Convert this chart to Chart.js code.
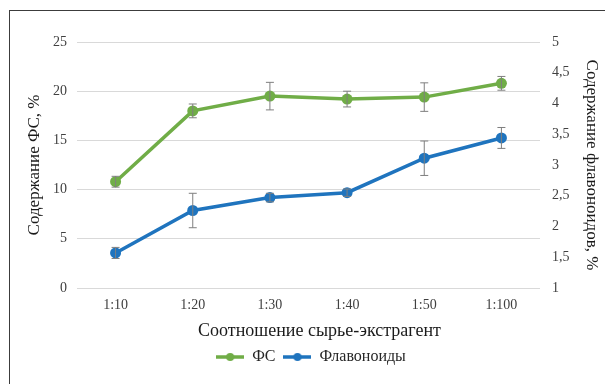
<!DOCTYPE html>
<html><head><meta charset="utf-8">
<script src="https://cdn.jsdelivr.net/npm/chart.js@4/dist/chart.umd.min.js"></script>
<style>
html,body{margin:0;padding:0;background:#fff;overflow:hidden;}
#wrap{position:absolute;left:0;top:0;width:605px;height:384px;}
#frame{position:absolute;left:9px;top:10px;width:700px;height:500px;border:1.5px solid #3c3c3c;box-sizing:border-box;}
</style></head>
<body>
<div id="frame"></div>
<div id="wrap"><canvas id="c" width="605" height="384"></canvas></div>
<script>
const categories = ['1:10','1:20','1:30','1:40','1:50','1:100'];
const fsValues = [10.8, 18.0, 19.5, 19.2, 19.4, 20.8];
const fsErrors = [0.55, 0.7, 1.4, 0.8, 1.45, 0.7];
const flavValues = [1.57, 2.26, 2.47, 2.55, 3.11, 3.44];
const flavErrors = [0.09, 0.28, 0.07, 0.06, 0.28, 0.17];
const leftTicks = [0, 5, 10, 15, 20, 25];
const rightTicks = [1, 1.5, 2, 2.5, 3, 3.5, 4, 4.5, 5];
const xTitle = 'Соотношение сырье-экстрагент';

const GREEN = '#70AD47', BLUE = '#1F74BE';
const FONT = "'Liberation Serif', 'Times New Roman', serif";

function legendIcon(color){
  const c = document.createElement('canvas');
  c.width = 28; c.height = 12;
  const g = c.getContext('2d');
  g.strokeStyle = color; g.lineWidth = 3.5;
  g.beginPath(); g.moveTo(0,6); g.lineTo(28,6); g.stroke();
  g.fillStyle = color; g.beginPath(); g.arc(14,6,4,0,Math.PI*2); g.fill();
  return c;
}

const errorBars = {
  id:'errorBars',
  afterDatasetsDraw(chart){
    const ctx = chart.ctx;
    ctx.save();
    ctx.strokeStyle = '#7f7f7f'; ctx.lineWidth = 1;
    chart.data.datasets.forEach((ds, i) => {
      const meta = chart.getDatasetMeta(i);
      const ys = chart.scales[ds.yAxisID];
      ds.data.forEach((v, j) => {
        const e = ds.errors[j];
        const x = meta.data[j].x;
        const y1 = ys.getPixelForValue(v + e), y2 = ys.getPixelForValue(v - e);
        ctx.beginPath();
        ctx.moveTo(x, y1); ctx.lineTo(x, y2);
        ctx.moveTo(x-4, y1); ctx.lineTo(x+4, y1);
        ctx.moveTo(x-4, y2); ctx.lineTo(x+4, y2);
        ctx.stroke();
      });
    });
    ctx.restore();
  }
};

const xTitlePlugin = {
  id:'xTitle',
  afterDraw(chart){
    const ctx = chart.ctx, a = chart.chartArea;
    ctx.save();
    ctx.font = "18px " + FONT;
    ctx.fillStyle = '#1a1a1a';
    ctx.textAlign = 'center'; ctx.textBaseline = 'middle';
    ctx.fillText(xTitle, (a.left + a.right)/2 + 11, a.bottom + 43);
    ctx.restore();
  }
};

new Chart(document.getElementById('c'), {
  type:'line',
  data:{
    labels: categories,
    datasets:[
      {label:'ФС', data: fsValues, errors: fsErrors, yAxisID:'y', borderColor:GREEN, backgroundColor:GREEN,
       borderWidth:3.5, pointRadius:5.5, pointBackgroundColor:GREEN, pointBorderWidth:0, tension:0, pointStyle:'circle'},
      {label:'Флавоноиды', data: flavValues, errors: flavErrors, yAxisID:'y1', borderColor:BLUE, backgroundColor:BLUE,
       borderWidth:3.5, pointRadius:5.5, pointBackgroundColor:BLUE, pointBorderWidth:0, tension:0, pointStyle:'circle'}
    ]
  },
  options:{
    responsive:false, animation:false,
    layout:{padding:{left:20, right:3, top:42, bottom:9}},
    plugins:{
      tooltip:{enabled:false},
      legend:{position:'bottom', labels:{usePointStyle:true, pointStyleWidth:28, font:{family:FONT, size:16}, color:'#262626', padding:8,
        generateLabels(chart){
          return chart.data.datasets.map((ds,i)=>({text:ds.label, pointStyle:legendIcon(ds.borderColor), fillStyle:ds.borderColor,
            strokeStyle:ds.borderColor, lineWidth:0, hidden:false, datasetIndex:i, fontColor:'#262626'}));
        }}},
    },
    scales:{
      x:{
        offset:true,
        afterFit(s){ s.height = 53; },
        grid:{display:false, drawTicks:false},
        border:{display:false},
        ticks:{font:{family:FONT, size:14}, color:'#404040', padding:9},
        title:{display:false}
      },
      y:{
        position:'left', min:0, max:25,
        afterBuildTicks(s){ s.ticks = leftTicks.map(v=>({value:v})); },
        afterFit(s){ s.width = 57; },
        grid:{color:'#d9d9d9', lineWidth:1, drawTicks:false},
        border:{display:false},
        ticks:{font:{family:FONT, size:14}, color:'#404040', padding:10},
        title:{display:true, text:'Содержание ФС, %', font:{family:FONT, size:17}, color:'#1a1a1a', padding:{bottom:2}}
      },
      y1:{
        position:'right', min:1, max:5,
        afterBuildTicks(s){ s.ticks = rightTicks.map(v=>({value:v})); },
        afterFit(s){ s.width = 62; },
        grid:{display:false, drawTicks:false},
        border:{display:false},
        ticks:{font:{family:FONT, size:14}, color:'#404040', padding:12,
          callback:(v)=>String(v).replace('.',',')},
        title:{display:true, text:'Содержание флавоноидов, %', font:{family:FONT, size:17}, color:'#1a1a1a', padding:{top:0}}
      }
    }
  },
  plugins:[errorBars, xTitlePlugin]
});
</script>
</body></html>
